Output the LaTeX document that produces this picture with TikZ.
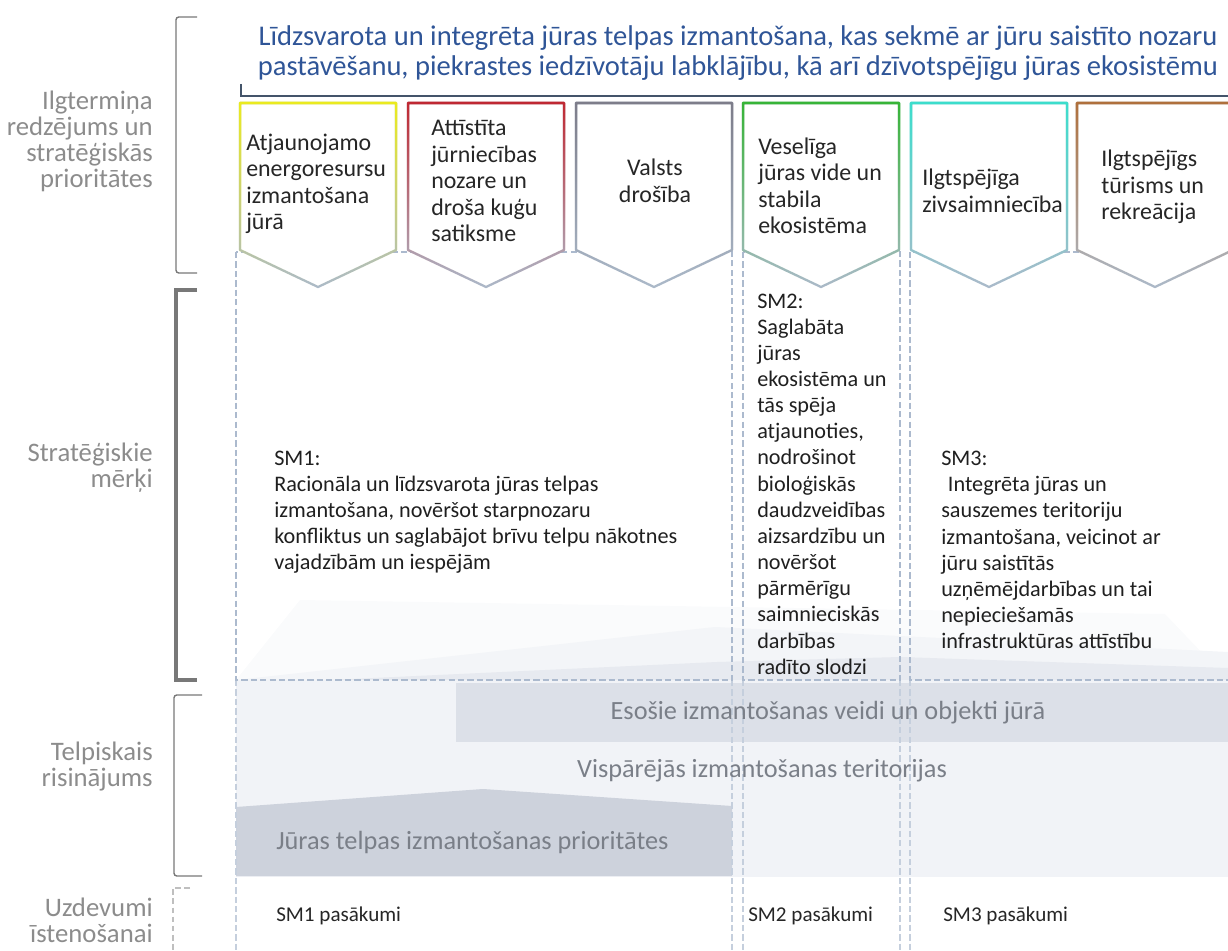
\documentclass[tikz,border=0pt]{standalone}
\usepackage{fontspec}
\setmainfont{Carlito}
\usetikzlibrary{positioning,fadings}

\definecolor{visionblue}{RGB}{47,85,151}
\definecolor{visionline}{RGB}{68,84,106}
\definecolor{labelgray}{RGB}{140,140,140}
\definecolor{bracketgray}{RGB}{120,120,120}
\definecolor{dashblue}{RGB}{172,186,206}
\definecolor{edgegray}{RGB}{172,186,202}
\definecolor{bandlight}{RGB}{241,243,247}
\definecolor{bandmid}{RGB}{220,224,232}
\definecolor{banddark}{RGB}{205,210,220}
\definecolor{moundfaint}{RGB}{250,251,252}
\definecolor{moundlight}{RGB}{243,245,248}
\definecolor{mounddark}{RGB}{231,234,240}
\definecolor{bandtext}{RGB}{122,127,136}
\definecolor{prioyellow}{RGB}{235,235,30}
\definecolor{priored}{RGB}{192,40,50}
\definecolor{priogray}{RGB}{125,125,138}
\definecolor{priogreen}{RGB}{55,180,55}
\definecolor{priocyan}{RGB}{60,222,205}
\definecolor{priobrown}{RGB}{176,112,60}

\tikzfading[name=fadedown, top color=transparent!0, middle color=transparent!25, bottom color=transparent!100]

\begin{document}
\begin{tikzpicture}[
        x=0.7113pt, y=-0.7113pt,
        sidelabel/.style={
            text=labelgray, font=\fontsize{19}{18.5}\selectfont,
            align=right, inner sep=0pt, anchor=east,
        },
        visiontext/.style={
            text=visionblue, font=\fontsize{20.3}{21.3}\selectfont,
            align=center, inner sep=0pt,
        },
        priotext/.style={
            text=black!85, font=\fontsize{17}{18.8}\selectfont,
            align=left, inner sep=0pt, anchor=west,
        },
        goaltext/.style={
            text=black!88, font=\fontsize{15.8}{18.6}\selectfont,
            align=left, inner sep=0pt, anchor=west,
        },
        bandlabel/.style={
            text=bandtext, font=\fontsize{18.7}{20}\selectfont, inner sep=0pt,
        },
        tasktext/.style={
            text=black!85, font=\fontsize{15}{18}\selectfont,
            inner sep=0pt, anchor=west,
        },
        bracketthin/.style={draw=bracketgray, line width=1pt, rounded corners=2pt},
        bracketthick/.style={draw=bracketgray, line width=3.4pt},
        bracketdash/.style={draw=black!25, line width=1.4pt, dash pattern=on 4pt off 2.5pt},
        colbox/.style={draw=dashblue, line width=1.1pt, dash pattern=on 4.5pt off 2.2pt},
        colfaint/.style={draw=dashblue!70, line width=1.1pt, dash pattern=on 4.5pt off 2.2pt},
        prioshape/.style={fill=white, draw=edgegray, line width=1.6pt, line join=round},
        prioedge/.style={line width=1.8pt, line join=round, path fading=fadedown},
    ]
    \useasboundingbox (0,0) rectangle (1228,951);

    \fill[moundfaint] (236,680) -- (300,600) -- (1165,614) -- (1228,680) -- cycle;
    \fill[moundlight] (236,680) -- (715,627) -- (1228,652) -- (1228,680) -- cycle;
    \fill[mounddark] (330,680) -- (717,662) -- (900,657) -- (1228,668) -- (1228,680) -- cycle;
    \fill[bandlight] (236,680) rectangle (1228,877);
    \fill[bandmid] (456,683) rectangle (1228,742);
    \fill[banddark] (236,876) -- (236,807) -- (483,789) -- (732,806) -- (732,876) -- cycle;

    \foreach \cx in {236,732,743,900,910}
        \draw[colfaint] (\cx,680) -- (\cx,955);
    \draw[colbox] (236,252) rectangle (732,680);
    \draw[colbox] (743,252) rectangle (900,680);
    \draw[colbox] (910,252) rectangle (1240,680);

    \foreach \lx/\col in {240/prioyellow,408/priored,576/priogray,743/priogreen,911/priocyan,1077/priobrown}{
        \filldraw[prioshape] (\lx,103) -- ++(156,0) -- ++(0,147) -- ++(-78,37) -- ++(-78,-37) -- cycle;
        \draw[prioedge, draw=\col] (\lx,103) -- ++(156,0) -- ++(0,147) -- ++(-78,37) -- ++(-78,-37) -- cycle;
    }

    \draw[bracketthin] (197,17) -- (176,17) -- (176,273) -- (197,273);
    \draw[bracketthick] (197,290) -- (176,290) -- (176,680) -- (197,680);
    \draw[bracketthin] (202,695) -- (174,695) -- (174,876) -- (202,876);
    \draw[bracketdash] (190,888) -- (173,888) -- (173,955);

    \node[sidelabel] (lvision) at (153,141) {Ilgtermiņa\\redzējums un\\stratēģiskās\\prioritātes};
    \node[sidelabel] (lgoals) at (153,468) {Stratēģiskie\\mērķi};
    \node[sidelabel] (lspatial) at (153,767) {Telpiskais\\risinājums};
    \node[sidelabel] (ltasks) at (153,920) {Uzdevumi\\īstenošanai};

    \node[visiontext] (vision) at (738,53) {Līdzsvarota un integrēta jūras telpas izmantošana, kas sekmē ar jūru saistīto nozaru\\pastāvēšanu, piekrastes iedzīvotāju labklājību, kā arī dzīvotspējīgu jūras ekosistēmu};
    \draw[visionline, line width=1.4pt] (241,84) -- (241,96) -- (1240,96);

    \node[priotext] (energy) at (246,184) {Atjaunojamo\\energoresursu\\izmantošana\\jūrā};
    \node[priotext] (shipping) at (431,181) {Attīstīta\\jūrniecības\\nozare un\\droša kuģu\\satiksme};
    \node[priotext, anchor=center, align=center] (defence) at (655,181) {Valsts\\drošība};
    \node[priotext] (environment) at (758,186) {Veselīga\\jūras vide un\\stabila\\ekosistēma};
    \node[priotext] (fishery) at (922,191) {Ilgtspējīga\\zivsaimniecība};
    \node[priotext] (tourism) at (1101,187) {Ilgtspējīgs\\tūrisms un\\rekreācija};

    \node[goaltext] (sm1) at (274,512) {SM1:\\Racionāla un līdzsvarota jūras telpas\\izmantošana, novēršot starpnozaru\\konfliktus un saglabājot brīvu telpu nākotnes\\vajadzībām un iespējām};
    \node[goaltext] (sm2) at (757,484) {SM2:\\Saglabāta\\jūras\\ekosistēma un\\tās spēja\\atjaunoties,\\nodrošinot\\bioloģiskās\\daudzveidības\\aizsardzību un\\novēršot\\pārmērīgu\\saimnieciskās\\darbības\\radīto slodzi};
    \node[goaltext] (sm3) at (941,550) {SM3:\\\hspace*{0.3em}Integrēta jūras un\\sauszemes teritoriju\\izmantošana, veicinot ar\\jūru saistītās\\uzņēmējdarbības un tai\\nepieciešamās\\infrastruktūras attīstību};

    \node[bandlabel] (existing) at (828,713) {Esošie izmantošanas veidi un objekti jūrā};
    \node[bandlabel] (general) at (762,771) {Vispārējās izmantošanas teritorijas};
    \node[bandlabel, anchor=west] (priority) at (276,842) {Jūras telpas izmantošanas prioritātes};

    \node[tasktext] (task1) at (276,916) {SM1 pasākumi};
    \node[tasktext] (task2) at (748,916) {SM2 pasākumi};
    \node[tasktext] (task3) at (943,916) {SM3 pasākumi};
\end{tikzpicture}
\end{document}
